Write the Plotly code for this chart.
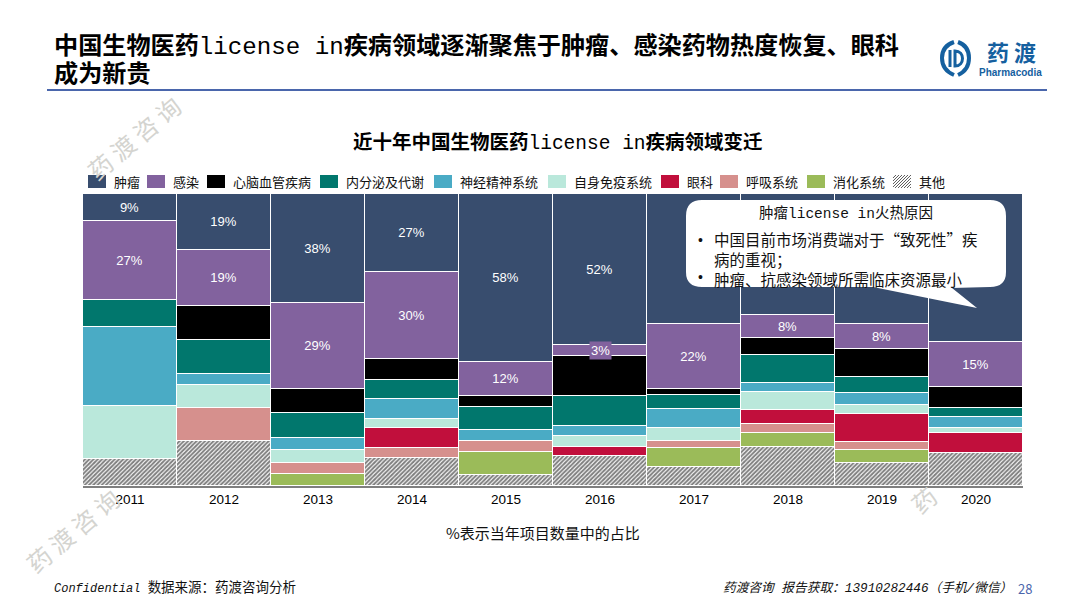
import numpy as np
import plotly.graph_objects as go

W, H = 1080, 608
PL, PR, PT, PB = 83, 1023, 194, 486

years = [2011,2012,2013,2014,2015,2016,2017,2018,2019,2020]
tumor     = [9.1,19.2,37.4,26.8,57.7,51.6,44.4,41.6,44.4,50.8]
infection = [27.2,19.1,29.3,29.9,11.7,3.7,22.3,7.8,8.6,15.3]
cardio    = [0,11.7,8.5,6.9,3.8,13.7,2.3,5.9,9.7,7.2]
endocrine = [9.1,11.6,8.4,6.8,7.9,10.5,4.5,9.4,5.5,2.9]
neuro     = [27.2,4.0,4.0,6.6,3.8,3.4,6.6,3.2,4.1,4.1]
immune    = [18.2,7.6,4.5,3.2,0,3.5,4.6,6.1,3.0,1.6]
eye       = [0,0,0,6.8,0,3.4,0,4.7,9.7,6.8]
resp      = [0,11.6,4.0,3.4,3.8,0,2.2,3.2,2.6,0]
digest    = [0,0,4.0,0,7.7,0,6.6,4.6,4.3,0]
other     = [9.1,15.3,0,9.7,3.8,10.1,6.5,13.5,8.0,11.3]

tumor_labels     = ["9%","19%","38%","27%","58%","52%","","","",""]
infection_labels = ["27%","19%","29%","30%","12%","","22%","8%","8%","15%"]

names = ["肿瘤","感染","心脑血管疾病","内分泌及代谢","神经精神系统","自身免疫系统","眼科","呼吸系统","消化系统","其他"]
series = [tumor,infection,cardio,endocrine,neuro,immune,eye,resp,digest,other]
colors = ["#384D6E","#82629E","#000000","#01776D","#4AABC5","#BAE8DB","#C10F3C","#D6908D","#9BBB59","#FFFFFF"]
legend_swatch_x = [88,147,207,320,434,548,661,720,807,893]
CJK = "Noto Sans CJK SC"
TITLE_F = f"Liberation Mono, {CJK}"
TXT = "#111111"

def px(x): return (x-PL)/(PR-PL)
def py(y): return (PB-y)/(PB-PT)

fig = go.Figure()
for i in range(len(names)-1,-1,-1):
    labels = {0:tumor_labels,1:infection_labels}.get(i,[""]*10)
    m = dict(color=colors[i], line=dict(color="#FFFFFF", width=1))
    if names[i]=="其他":
        m["pattern"] = dict(shape="/", size=3, solidity=0.65, fgcolor="#000000", bgcolor="#FFFFFF")
    fig.add_trace(go.Bar(x=years,y=series[i],name=names[i],marker=m,text=labels,
        textposition="inside",insidetextanchor="middle",textangle=0,constraintext="none",
        textfont=dict(color="#FFFFFF",size=13,family=f"Liberation Sans, {CJK}"),
        hoverinfo="x+y+name",showlegend=False))

anns=[]; shapes=[]
def text(x,y,s,size=13,color=TXT,family=CJK,anchor="left",angle=0,**kw):
    anns.append(dict(xref="paper",yref="paper",x=px(x),y=py(y),text=s,showarrow=False,
        xanchor=anchor,yanchor="middle",textangle=angle,
        font=dict(size=size,color=color,family=family),**kw))
def path(d,fill=None,lc=None,lw=0,layer="above"):
    shapes.append(dict(type="path",xref="paper",yref="paper",path=d,
        fillcolor=fill if fill else "rgba(0,0,0,0)",
        line=dict(color=lc if lc else "rgba(0,0,0,0)",width=lw),layer=layer))
def P(x,y): return f"{px(x):.5f},{py(y):.5f}"

# watermarks
for cx,cy,s in [(134,138,"药 渡 咨 询"),(72,530,"药 渡 咨 询"),(923,499,"药")]:
    text(cx,cy,s,size=24,color="#D4D4D0",anchor="center",angle=-40)

# titles
text(52,46,"<b>中国生物医药</b>license in<b>疾病领域逐渐聚焦于肿瘤、感染药物热度恢复、眼科</b>",size=24.15,family=TITLE_F,color="#000000")
text(52,75,"<b>成为新贵</b>",size=24.15,family=TITLE_F,color="#000000")
shapes.append(dict(type="line",xref="paper",yref="paper",x0=px(47),x1=px(1047),y0=py(90),y1=py(90),line=dict(color="#4A66AC",width=2)))
text(558,143,"<b>近十年中国生物医药</b>license in<b>疾病领域变迁</b>",size=19.5,family=TITLE_F,anchor="center",color="#000000")

# logo
LOGO="#15609F"
path("M"+P(954,42)+" Q"+P(942,46)+" "+P(942,58)+" Q"+P(942,70)+" "+P(954,75),lc=LOGO,lw=4)
path("M"+P(958,42)+" Q"+P(969,46)+" "+P(969,58)+" Q"+P(969,70)+" "+P(958,75),lc=LOGO,lw=4)
path("M"+P(950,50)+" L"+P(950,67),lc=LOGO,lw=3)
path("M"+P(955,51)+" C"+P(965,51)+" "+P(965,66)+" "+P(955,66)+" Z",lc=LOGO,lw=3)
text(1011,51,"<b>药 渡</b>",size=22,color=LOGO,anchor="center")
text(1010,72,"<b>Pharmacodia</b>",size=10,color=LOGO,anchor="center",family="Liberation Sans")

# legend
for i,(n,x0) in enumerate(zip(names,legend_swatch_x)):
    if n=="其他":
        d=""
        for k in range(-13,19,3):
            xa,xb=x0+max(k,0),x0+min(k+13,18)
            ya=188-max(-k,0); yb=188-(xb-x0-k)
            d+="M"+P(xa,ya)+" L"+P(xb,yb)+" "
        path(d,lc="#333333",lw=0.8)
    else:
        shapes.append(dict(type="rect",xref="paper",yref="paper",x0=px(x0),x1=px(x0+18),y0=py(188),y1=py(175),
            fillcolor=colors[i],line=dict(width=0)))
    text(x0+24,181.5,n,size=13)

# callout
path("M"+P(702,200)+" L"+P(990,200)+" Q"+P(1006,200)+" "+P(1006,216)+" L"+P(1006,272)+" Q"+P(1006,287)+" "+P(990,287)
     +" L"+P(952,288)+" L"+P(977,308)+" L"+P(873,287)+" L"+P(702,287)+" Q"+P(686,287)+" "+P(686,272)
     +" L"+P(686,216)+" Q"+P(686,200)+" "+P(702,200)+" Z",fill="#FFFFFF")
text(846,213,"肿瘤license in火热原因",size=14.5,family=TITLE_F,anchor="center")
text(696,240,"•",size=14,family="Liberation Sans"); text(696,277,"•",size=14,family="Liberation Sans")
anns.append(dict(xref="paper",yref="paper",x=px(712),y=py(258.5),showarrow=False,xanchor="left",yanchor="middle",align="left",
    text="中国目前市场消费端对于“致死性”疾<br>病的重视；<br>肿瘤、抗感染领域所需临床资源最小",font=dict(size=15.5,color=TXT,family=CJK)))

# small label with its own box: 3% in 2016
i16=years.index(2016)
y3=100*(1-(tumor[i16]+infection[i16]/2)/sum(s[i16] for s in series))
anns.append(dict(xref="x",yref="y",x=2016,y=y3,text="3%",showarrow=False,bgcolor=colors[1],
    font=dict(color="#FFFFFF",size=13,family="Liberation Sans"),borderpad=1))

# footers
text(543,532,"%表示当年项目数量中的占比",size=15,anchor="center")
text(52,588,"<i>Confidential</i> <span style='font-size:13.5px'>数据来源：药渡咨询分析</span>",size=12,family=TITLE_F)
text(1014,588,"<i>药渡咨询 报告获取：13910282446（手机/微信）</i>",size=12.7,anchor="right",family=TITLE_F)
text(1025,588,"28",size=13,color="#4A66AC",anchor="center")

fig.update_layout(width=W,height=H,autosize=False,
    margin=dict(l=PL,r=W-PR,t=PT,b=H-PB,autoexpand=False),
    plot_bgcolor="#FFFFFF",paper_bgcolor="#FFFFFF",
    barmode="stack",barnorm="percent",bargap=0,
    annotations=anns,shapes=shapes,showlegend=False,
    xaxis=dict(type="linear",tickmode="array",tickvals=years,ticktext=[str(y) for y in years],range=[2010.5,2020.5],
        tickfont=dict(size=13.5,color="#000000",family="Liberation Sans"),
        showline=True,linecolor="#7F7F7F",linewidth=2,ticks="",showgrid=False,zeroline=False),
    yaxis=dict(range=[0,100],visible=False,showgrid=False,zeroline=False))
fig.write_html("out.html",config={"displayModeBar":False},
    post_script="document.body.style.margin='0';document.documentElement.style.overflow='hidden';")
